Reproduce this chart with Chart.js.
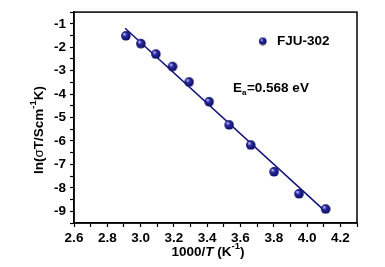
<!DOCTYPE html>
<html lang="en">
<head>
<meta charset="UTF-8">
<title>FJU-302 Arrhenius plot</title>
<script src="https://cdn.jsdelivr.net/npm/chart.js"></script>
<style>
  html, body { margin: 0; padding: 0; background: #fff; }
  #wrap { width: 385px; height: 267px; }
</style>
</head>
<body>
<div id="wrap"><canvas id="c" width="385" height="267"></canvas></div>
<script>
// data
const invT = [2.91, 3.00, 3.09, 3.19, 3.29, 3.41, 3.53, 3.66, 3.80, 3.95, 4.11];
const lnSigmaT = [-1.50, -1.83, -2.28, -2.81, -3.47, -4.31, -5.30, -6.16, -7.30, -8.24, -8.89];
const fitX = [2.907, 4.116];
const fitY = [-1.19, -9.05];
const seriesName = 'FJU-302';
const energyLabel = '=0.568 eV';

const FONT = '"Liberation Sans", Arial, sans-serif';
const NAVY = '#14147e';

// small shaded ball used as marker
function ball(r) {
  const c = document.createElement('canvas');
  c.width = c.height = r * 2 + 2;
  const g = c.getContext('2d');
  const cx = r + 1, cy = r + 1;
  const grad = g.createRadialGradient(cx - r * 0.35, cy - r * 0.4, r * 0.1, cx, cy, r);
  grad.addColorStop(0, '#b8b8f0');
  grad.addColorStop(0.35, '#2a2aa8');
  grad.addColorStop(1, '#0a0a5a');
  g.fillStyle = grad;
  g.beginPath();
  g.arc(cx, cy, r, 0, Math.PI * 2);
  g.fill();
  return c;
}
const marker = ball(4.8);
const legendMarker = ball(3.8);

// draw a row of text pieces centred on (0,0) of the current transform
function richText(ctx, parts, size) {
  let total = 0;
  parts.forEach(p => {
    ctx.font = (p.style || 'bold') + ' ' + (p.sup ? size * 0.7 : size) + 'px ' + FONT;
    p.w = ctx.measureText(p.t).width;
    total += p.w;
  });
  let x = -total / 2;
  ctx.textBaseline = 'middle';
  ctx.textAlign = 'left';
  parts.forEach(p => {
    ctx.font = (p.style || 'bold') + ' ' + (p.sup ? size * 0.7 : size) + 'px ' + FONT;
    ctx.fillText(p.t, x, p.sup ? -size * 0.38 : 0);
    x += p.w;
  });
}

const extras = {
  id: 'extras',
  afterDraw(chart) {
    const ctx = chart.ctx;
    const a = chart.chartArea;
    ctx.save();
    // frame
    ctx.strokeStyle = '#000';
    ctx.lineWidth = 1.5;
    ctx.strokeRect(a.left, a.top, a.right - a.left, a.bottom - a.top);
    ctx.fillStyle = '#000';

    // y title
    ctx.save();
    ctx.translate(39, 130);
    ctx.rotate(-Math.PI / 2);
    richText(ctx, [
      { t: 'ln(' }, { t: 'σ', style: 'normal' }, { t: 'T/Scm' },
      { t: '-1', sup: true }, { t: 'K)' }
    ], 13.5);
    ctx.restore();

    // x title
    ctx.save();
    ctx.translate(208, 252);
    richText(ctx, [
      { t: '1000/' }, { t: 'T', style: 'italic bold' }, { t: ' (K' },
      { t: '-1', sup: true }, { t: ')' }
    ], 13.5);
    ctx.restore();

    // legend
    ctx.drawImage(legendMarker, 262.5 - legendMarker.width / 2, 41 - legendMarker.height / 2);
    ctx.font = 'bold 13.5px ' + FONT;
    ctx.textBaseline = 'middle';
    ctx.textAlign = 'left';
    ctx.fillText(seriesName, 277, 41);

    // activation energy
    ctx.font = 'bold 13.5px ' + FONT;
    ctx.fillText('E', 233, 88);
    const ew = ctx.measureText('E').width;
    ctx.font = 'bold 8px ' + FONT;
    ctx.fillText('a', 233 + ew, 93);
    const aw = ctx.measureText('a').width;
    ctx.font = 'bold 13.5px ' + FONT;
    ctx.fillText(energyLabel, 233 + ew + aw + 0.5, 88);
    ctx.restore();
  }
};

new Chart(document.getElementById('c'), {
  type: 'scatter',
  data: {
    datasets: [
      {
        label: seriesName,
        data: invT.map((x, i) => ({ x: x, y: lnSigmaT[i] })),
        pointStyle: marker,
        pointRadius: 5,
        order: 0
      },
      {
        label: 'fit',
        data: fitX.map((x, i) => ({ x: x, y: fitY[i] })),
        showLine: true,
        borderColor: NAVY,
        borderWidth: 1.6,
        pointRadius: 0,
        order: 1
      }
    ]
  },
  plugins: [extras],
  options: {
    responsive: false,
    animation: false,
    events: [],
    layout: { padding: { top: 12, right: 28, left: 0, bottom: 0 } },
    plugins: {
      legend: { display: false },
      tooltip: { enabled: false }
    },
    scales: {
      x: {
        type: 'linear',
        min: 2.6,
        max: 4.3,
        afterFit: s => { s.height = 44; },
        border: { display: true, color: '#000', width: 1.5 },
        grid: { drawOnChartArea: false, color: '#000', tickLength: 4, tickWidth: 1.2 },
        ticks: {
          stepSize: 0.1,
          padding: 3,
          color: '#000',
          font: { family: FONT, size: 13.5, weight: 'bold' },
          maxRotation: 0,
          autoSkip: false,
          callback: v => {
            const k = Math.round(v * 10);
            return (k % 2 === 0 && k <= 42) ? (k / 10).toFixed(1) : '';
          }
        }
      },
      y: {
        type: 'linear',
        min: -9.5,
        max: -0.5,
        afterFit: s => { s.width = 74; },
        border: { display: true, color: '#000', width: 1.5 },
        grid: { drawOnChartArea: false, color: '#000', tickLength: 4, tickWidth: 1.2 },
        ticks: {
          stepSize: 0.5,
          padding: 4,
          color: '#000',
          font: { family: FONT, size: 13.5, weight: 'bold' },
          autoSkip: false,
          callback: v => {
            const k = Math.round(v * 2);
            return (k % 2 === 0) ? String(k / 2) : '';
          }
        }
      }
    }
  }
});
</script>
</body>
</html>
